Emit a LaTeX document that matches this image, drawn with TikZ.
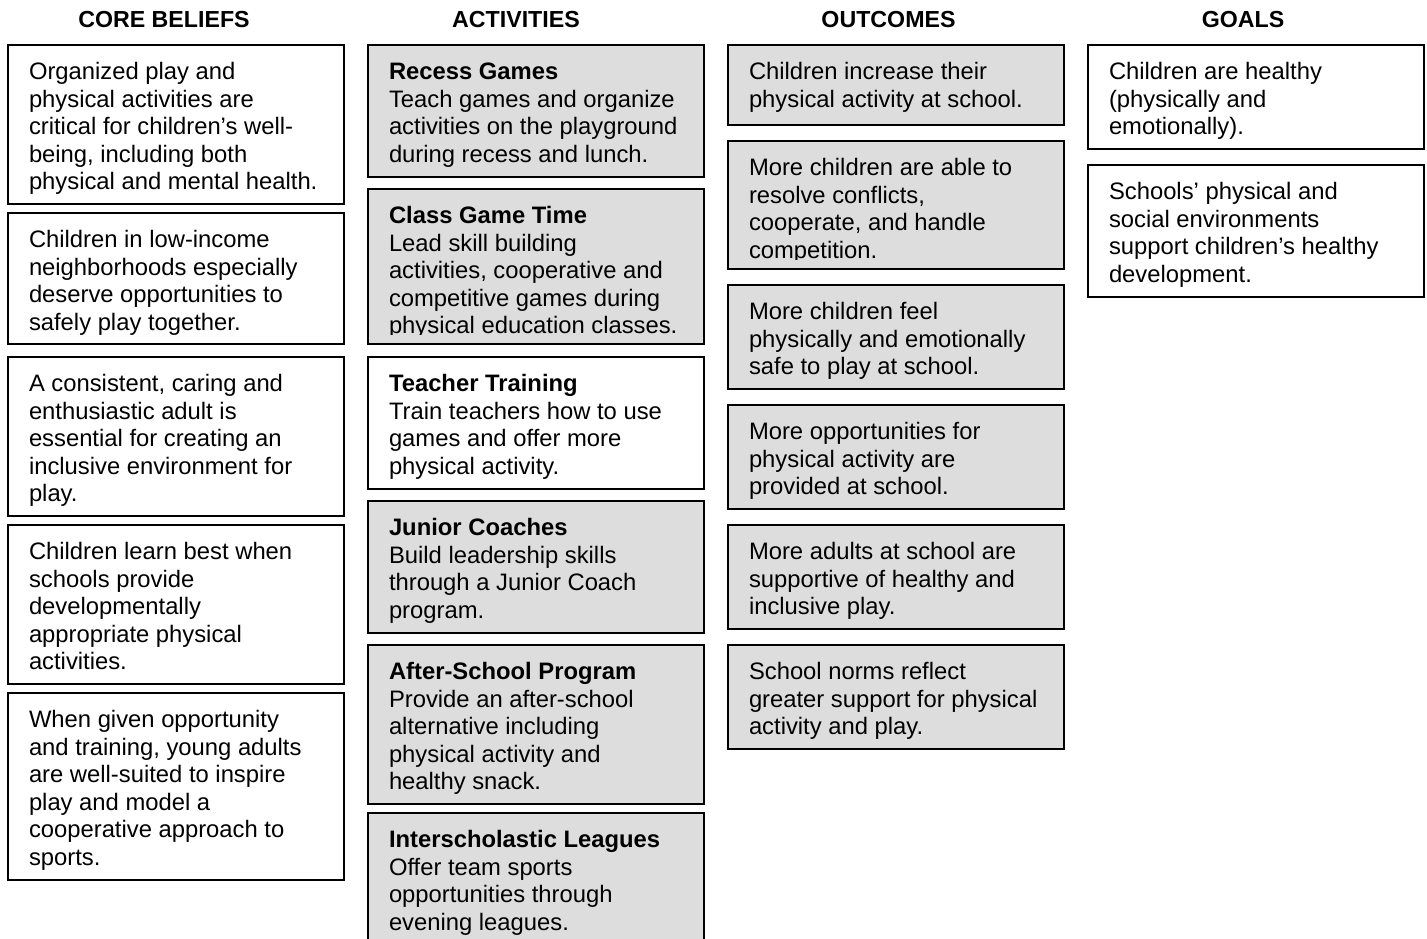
\documentclass[tikz,border=0pt]{standalone}
\usepackage{fontspec}
\setmainfont{Liberation Sans}[Ligatures=CommonOff]
\definecolor{cellgray}{RGB}{221,221,221}
\tikzset{
  cell/.style={draw=black, line width=1.9pt, inner sep=0pt, outer sep=0pt,
    minimum width=336pt, anchor=north west},
  celltext/.style={inner sep=0pt, outer sep=0pt, anchor=north west,
    font=\fontsize{23.8pt}{27.6pt}\selectfont},
  header/.style={inner sep=0pt, anchor=base,
    font=\fontsize{23.2pt}{27pt}\selectfont\bfseries}
}
% #1 name, #2 left x, #3 top y, #4 bottom y, #5 fill, #6 clip inset, #7 text
\newcommand{\mkbox}[7]{%
  \node[cell, fill=#5, minimum height={#4pt-#3pt}] (#1) at (#2,#3) {};
  \begin{scope}
    \clip (#1.north west) rectangle ([yshift=#6pt]#1.south east);
    \node[celltext] (#1-t) at ([xshift=21pt]#1.north west)
      {\parbox[t]{312pt}{\raggedright\rule{0pt}{34.5pt}#7}};
  \end{scope}
}
\begin{document}
\begin{tikzpicture}[x=1pt,y=-1pt]
\useasboundingbox[fill=white] (0,0) rectangle (1427,939);

% headers
\node[header] (hcore) at (164,28) {CORE BELIEFS};
\node[header] (hact) at (516,28) {ACTIVITIES};
\node[header] (hout) at (888.5,28) {OUTCOMES};
\node[header] (hgoal) at (1243,28) {GOALS};

% core beliefs
\mkbox{b1}{8}{45}{204}{white}{0}{Organized play and\\physical activities are\\critical for children’s well-\\being, including both\\physical and mental health.}
\mkbox{b2}{8}{213}{344}{white}{0}{Children in low-income\\neighborhoods especially\\deserve opportunities to\\safely play together.}
\mkbox{b3}{8}{357}{516}{white}{0}{A consistent, caring and\\enthusiastic adult is\\essential for creating an\\inclusive environment for\\play.}
\mkbox{b4}{8}{525}{684}{white}{0}{Children learn best when\\schools provide\\developmentally\\appropriate physical\\activities.}
\mkbox{b5}{8}{693}{880}{white}{0}{When given opportunity\\and training, young adults\\are well-suited to inspire\\play and model a\\cooperative approach to\\sports.}

% activities
\mkbox{a1}{368}{45}{177}{cellgray}{0}{\textbf{Recess Games}\\Teach games and organize\\activities on the playground\\during recess and lunch.}
\mkbox{a2}{368}{189}{344}{cellgray}{10}{\textbf{Class Game Time}\\Lead skill building\\activities, cooperative and\\competitive games during\\physical education classes.}
\mkbox{a3}{368}{357}{489}{white}{0}{\textbf{Teacher Training}\\Train teachers how to use\\games and offer more\\physical activity.}
\mkbox{a4}{368}{501}{633}{cellgray}{0}{\textbf{Junior Coaches}\\Build leadership skills\\through a Junior Coach\\program.}
\mkbox{a5}{368}{645}{804}{cellgray}{0}{\textbf{After-School Program}\\Provide an after-school\\alternative including\\physical activity and\\healthy snack.}
\mkbox{a6}{368}{813}{955}{cellgray}{0}{\textbf{Interscholastic Leagues}\\Offer team sports\\opportunities through\\evening leagues.}

% outcomes
\mkbox{o1}{728}{45}{125}{cellgray}{0}{Children increase their\\physical activity at school.}
\mkbox{o2}{728}{141}{269}{cellgray}{10}{More children are able to\\resolve conflicts,\\cooperate, and handle\\competition.}
\mkbox{o3}{728}{285}{389}{cellgray}{0}{More children feel\\physically and emotionally\\safe to play at school.}
\mkbox{o4}{728}{405}{509}{cellgray}{0}{More opportunities for\\physical activity are\\provided at school.}
\mkbox{o5}{728}{525}{629}{cellgray}{0}{More adults at school are\\supportive of healthy and\\inclusive play.}
\mkbox{o6}{728}{645}{749}{cellgray}{0}{School norms reflect\\greater support for physical\\activity and play.}

% goals
\mkbox{g1}{1088}{45}{149}{white}{0}{Children are healthy\\(physically and\\emotionally).}
\mkbox{g2}{1088}{165}{297}{white}{0}{Schools’ physical and\\social environments\\support children’s healthy\\development.}
\end{tikzpicture}
\end{document}
